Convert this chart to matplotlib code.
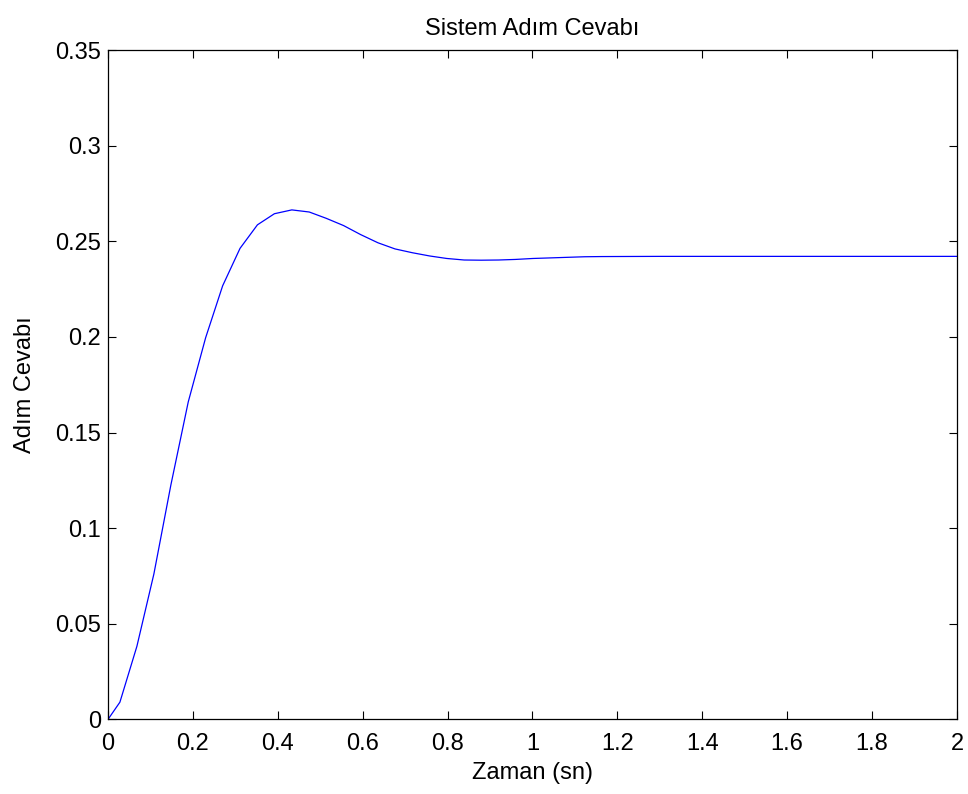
#!/usr/bin/env python3
"""
Step response plot (MATLAB-style figure)
"""
import numpy as np
import matplotlib
matplotlib.use('Agg')
import matplotlib.pyplot as plt
from matplotlib.ticker import FuncFormatter

# Time points (s) and step response
zaman = [0, 0.028, 0.068, 0.108, 0.148, 0.189, 0.230, 0.270, 0.311, 0.352,
         0.392, 0.433, 0.474, 0.514, 0.555, 0.595, 0.636, 0.676, 0.717,
         0.758, 0.798, 0.839, 0.879, 0.920, 0.960, 1.001, 1.042, 1.082,
         1.123, 1.163, 1.3, 1.6, 2.0]
cevap = [0, 0.0090, 0.0382, 0.0760, 0.1225, 0.1660, 0.1996, 0.2267, 0.2463,
         0.2586, 0.2644, 0.2664, 0.2653, 0.2620, 0.2582, 0.2535, 0.2492,
         0.2460, 0.2440, 0.2423, 0.2410, 0.2402, 0.2401, 0.2402, 0.2405,
         0.2410, 0.2413, 0.2416, 0.2419, 0.2420, 0.2421, 0.2421, 0.2421]

x_ticks = np.arange(0, 2.01, 0.2)
y_ticks = np.arange(0, 0.351, 0.05)


def trim(v, _pos):
    return ('%.2f' % v).rstrip('0').rstrip('.')


def main():
    plt.rcParams['font.family'] = ['Liberation Sans', 'DejaVu Sans']
    fig = plt.figure(figsize=(9.68, 7.94), dpi=100)
    ax = fig.add_axes([0.1116, 0.094, 0.877, 0.843])

    ax.plot(zaman, cevap, color='#0000ff', linewidth=0.9)

    ax.set_xlim(0, 2)
    ax.set_ylim(0, 0.35)
    ax.set_xticks(x_ticks)
    ax.set_yticks(y_ticks)
    ax.xaxis.set_major_formatter(FuncFormatter(trim))
    ax.yaxis.set_major_formatter(FuncFormatter(trim))
    ax.tick_params(direction='in', length=6, width=0.8, labelsize=17,
                   top=True, right=True)
    ax.tick_params(axis='x', pad=9.5)
    ax.tick_params(axis='y', pad=5)
    for s in ax.spines.values():
        s.set_linewidth(0.9)

    ax.set_title('Sistem Adım Cevabı', fontsize=17, pad=11)
    ax.set_xlabel('Zaman (sn)', fontsize=17, labelpad=5)
    ax.set_ylabel('Adım Cevabı', fontsize=17, labelpad=14)

    fig.savefig('out.png', dpi=100)


if __name__ == '__main__':
    main()
